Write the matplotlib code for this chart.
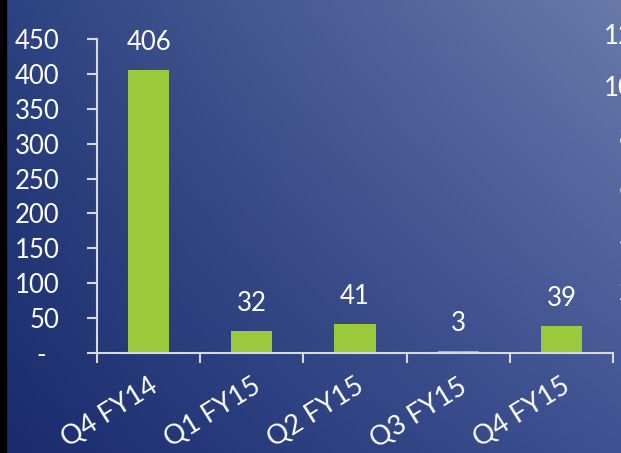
import numpy as np
import matplotlib
matplotlib.use("Agg")
import matplotlib.pyplot as plt

plt.rcParams['font.family'] = ['Lato', 'DejaVu Sans']

quarters = ["Q4 FY14", "Q1 FY15", "Q2 FY15", "Q3 FY15", "Q4 FY15"]
values = [406, 32, 41, 3, 39]
y_ticks = [0, 50, 100, 150, 200, 250, 300, 350, 400, 450]
# tick labels of the neighbouring chart, cut off at the right edge
side_labels = ["120", "100", "80", "60", "40", "20"]

W, H = 621, 453
fig = plt.figure(figsize=(W / 100, H / 100), dpi=100)

# background gradient, lighter towards the top right
bg = fig.add_axes([0, 0, 1, 1], zorder=-10)
tl = np.array([44, 66, 128])
tr = np.array([104, 121, 170])
bl = np.array([25, 43, 108])
br = np.array([62, 82, 146])
yy, xx = np.mgrid[0:1:200j, 0:1:200j]
img = ((1 - yy)[..., None] * ((1 - xx)[..., None] * tl + xx[..., None] * tr)
       + yy[..., None] * ((1 - xx)[..., None] * bl + xx[..., None] * br)) / 255
bg.imshow(img, aspect='auto', extent=[0, 1, 0, 1], origin='upper')
bg.add_patch(plt.Rectangle((0, 0), 6 / W, 1, color='black'))
bg.set_xlim(0, 1)
bg.set_ylim(0, 1)
bg.axis('off')

ax = fig.add_axes([97 / W, (H - 353) / H, 516 / W, 314 / H])
ax.patch.set_alpha(0)

x = np.arange(len(quarters))
ax.bar(x, values, width=0.4, color='#9ACA3C', zorder=2)
for xi, v in zip(x, values):
    ax.annotate(str(v), (xi, v), xytext=(0, 14.5), textcoords='offset points',
                ha='center', va='baseline', color='white', fontsize=18.5)

ax.set_xlim(-0.5, len(quarters) - 0.5)
ax.set_ylim(0, 450)

line_col = '#d9d9d9'
for side in ['top', 'right']:
    ax.spines[side].set_visible(False)
for side in ['left', 'bottom']:
    ax.spines[side].set_color(line_col)
    ax.spines[side].set_linewidth(1.5)

ax.set_yticks(y_ticks)
ax.set_yticklabels(['-  '] + [str(t) for t in y_ticks[1:]])
ax.tick_params(axis='y', direction='out', length=7, width=1.5, color=line_col,
               labelcolor='white', labelsize=18.5, pad=20)

ax.set_xticks(np.arange(-0.5, len(quarters), 1.0))
ax.set_xticklabels([])
ax.tick_params(axis='x', which='major', direction='out', length=7, width=1.5,
               color=line_col)
ax.set_xticks(x, minor=True)
ax.set_xticklabels(quarters, minor=True, rotation=32, ha='right', va='top',
                   rotation_mode='anchor')
ax.tick_params(axis='x', which='minor', length=0, labelcolor='white',
               labelsize=19.5, pad=15)

for i, lab in enumerate(side_labels):
    fig.text(649 / W, 1 - (37 + 51 * i) / H, lab, ha='right', va='center',
             color='white', fontsize=18.5)

fig.savefig('out.png', dpi=100)
